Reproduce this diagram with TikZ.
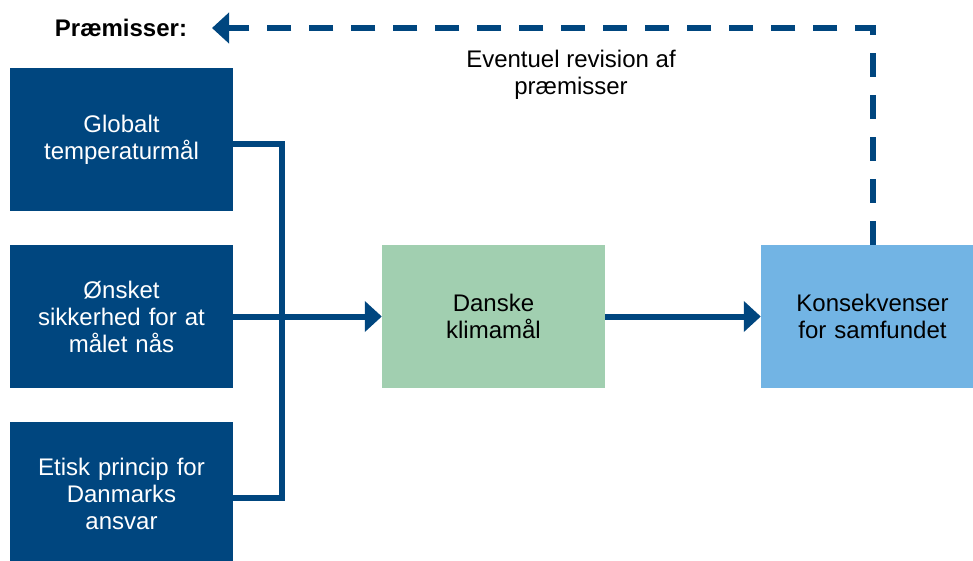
\documentclass[tikz,border=0pt]{standalone}
\usepackage{fontspec}
\setmainfont{Liberation Sans}
\usetikzlibrary{arrows.meta}
\usetikzlibrary{positioning}
\usepackage{xcolor}
\definecolor{morkbla}{RGB}{0,70,127}
\definecolor{lysgron}{RGB}{161,207,176}
\definecolor{lysbla}{RGB}{114,180,228}

\begin{document}
\begin{tikzpicture}[x=1pt, y=-1pt,
		every node/.style={font=\fontsize{24}{27}\selectfont, align=center},
		boks/.style={minimum width=223pt, minimum height=143pt, inner sep=0pt, text width=215pt},
		premis/.style={boks, fill=morkbla, text=white},
		linje/.style={morkbla, line width=6pt},
		pil/.style={linje, -{Triangle[length=17pt, width=30pt]}}]
		\useasboundingbox (0,0) rectangle (973,560);
		
		% premisserne til venstre
		\node[premis] (globalt) at (121.5,139.5) {Globalt\\temperaturmål};
		\node[premis] (sikkerhed) at (121.5,316.5) {Ønsket\\sikkerhed for at\\målet nås};
		\node[premis] (etisk) at (121.5,493.5) {Etisk princip for\\Danmarks\\ansvar};
		
		\node[boks, fill=lysgron] (klimamaal) at (493.5,316.5) {Danske\\klimamål};
		\node[boks, fill=lysbla] (konsekvens) at (872.5,316.5) {Konsekvenser\\for samfundet};
		
		\node[font=\bfseries\fontsize{24}{27}\selectfont] (praemisser) at (121,28) {Præmisser:};
		\node (revision) at (571,75) {Eventuel revision af\\præmisser};
		\coordinate (pilspids) at (212,28);
		
		% forbindelser
		\draw[linje] ([yshift=-4.5pt]globalt.east) -- ++(49,0) |- ([yshift=-4.5pt]etisk.east);
		\draw[pil] (sikkerhed.east) -- (klimamaal.west);
		\draw[pil] (klimamaal.east) -- (konsekvens.west);
		\draw[pil, dash pattern=on 24pt off 18pt] (konsekvens.north) |- (pilspids);
	\end{tikzpicture}
\end{document}
